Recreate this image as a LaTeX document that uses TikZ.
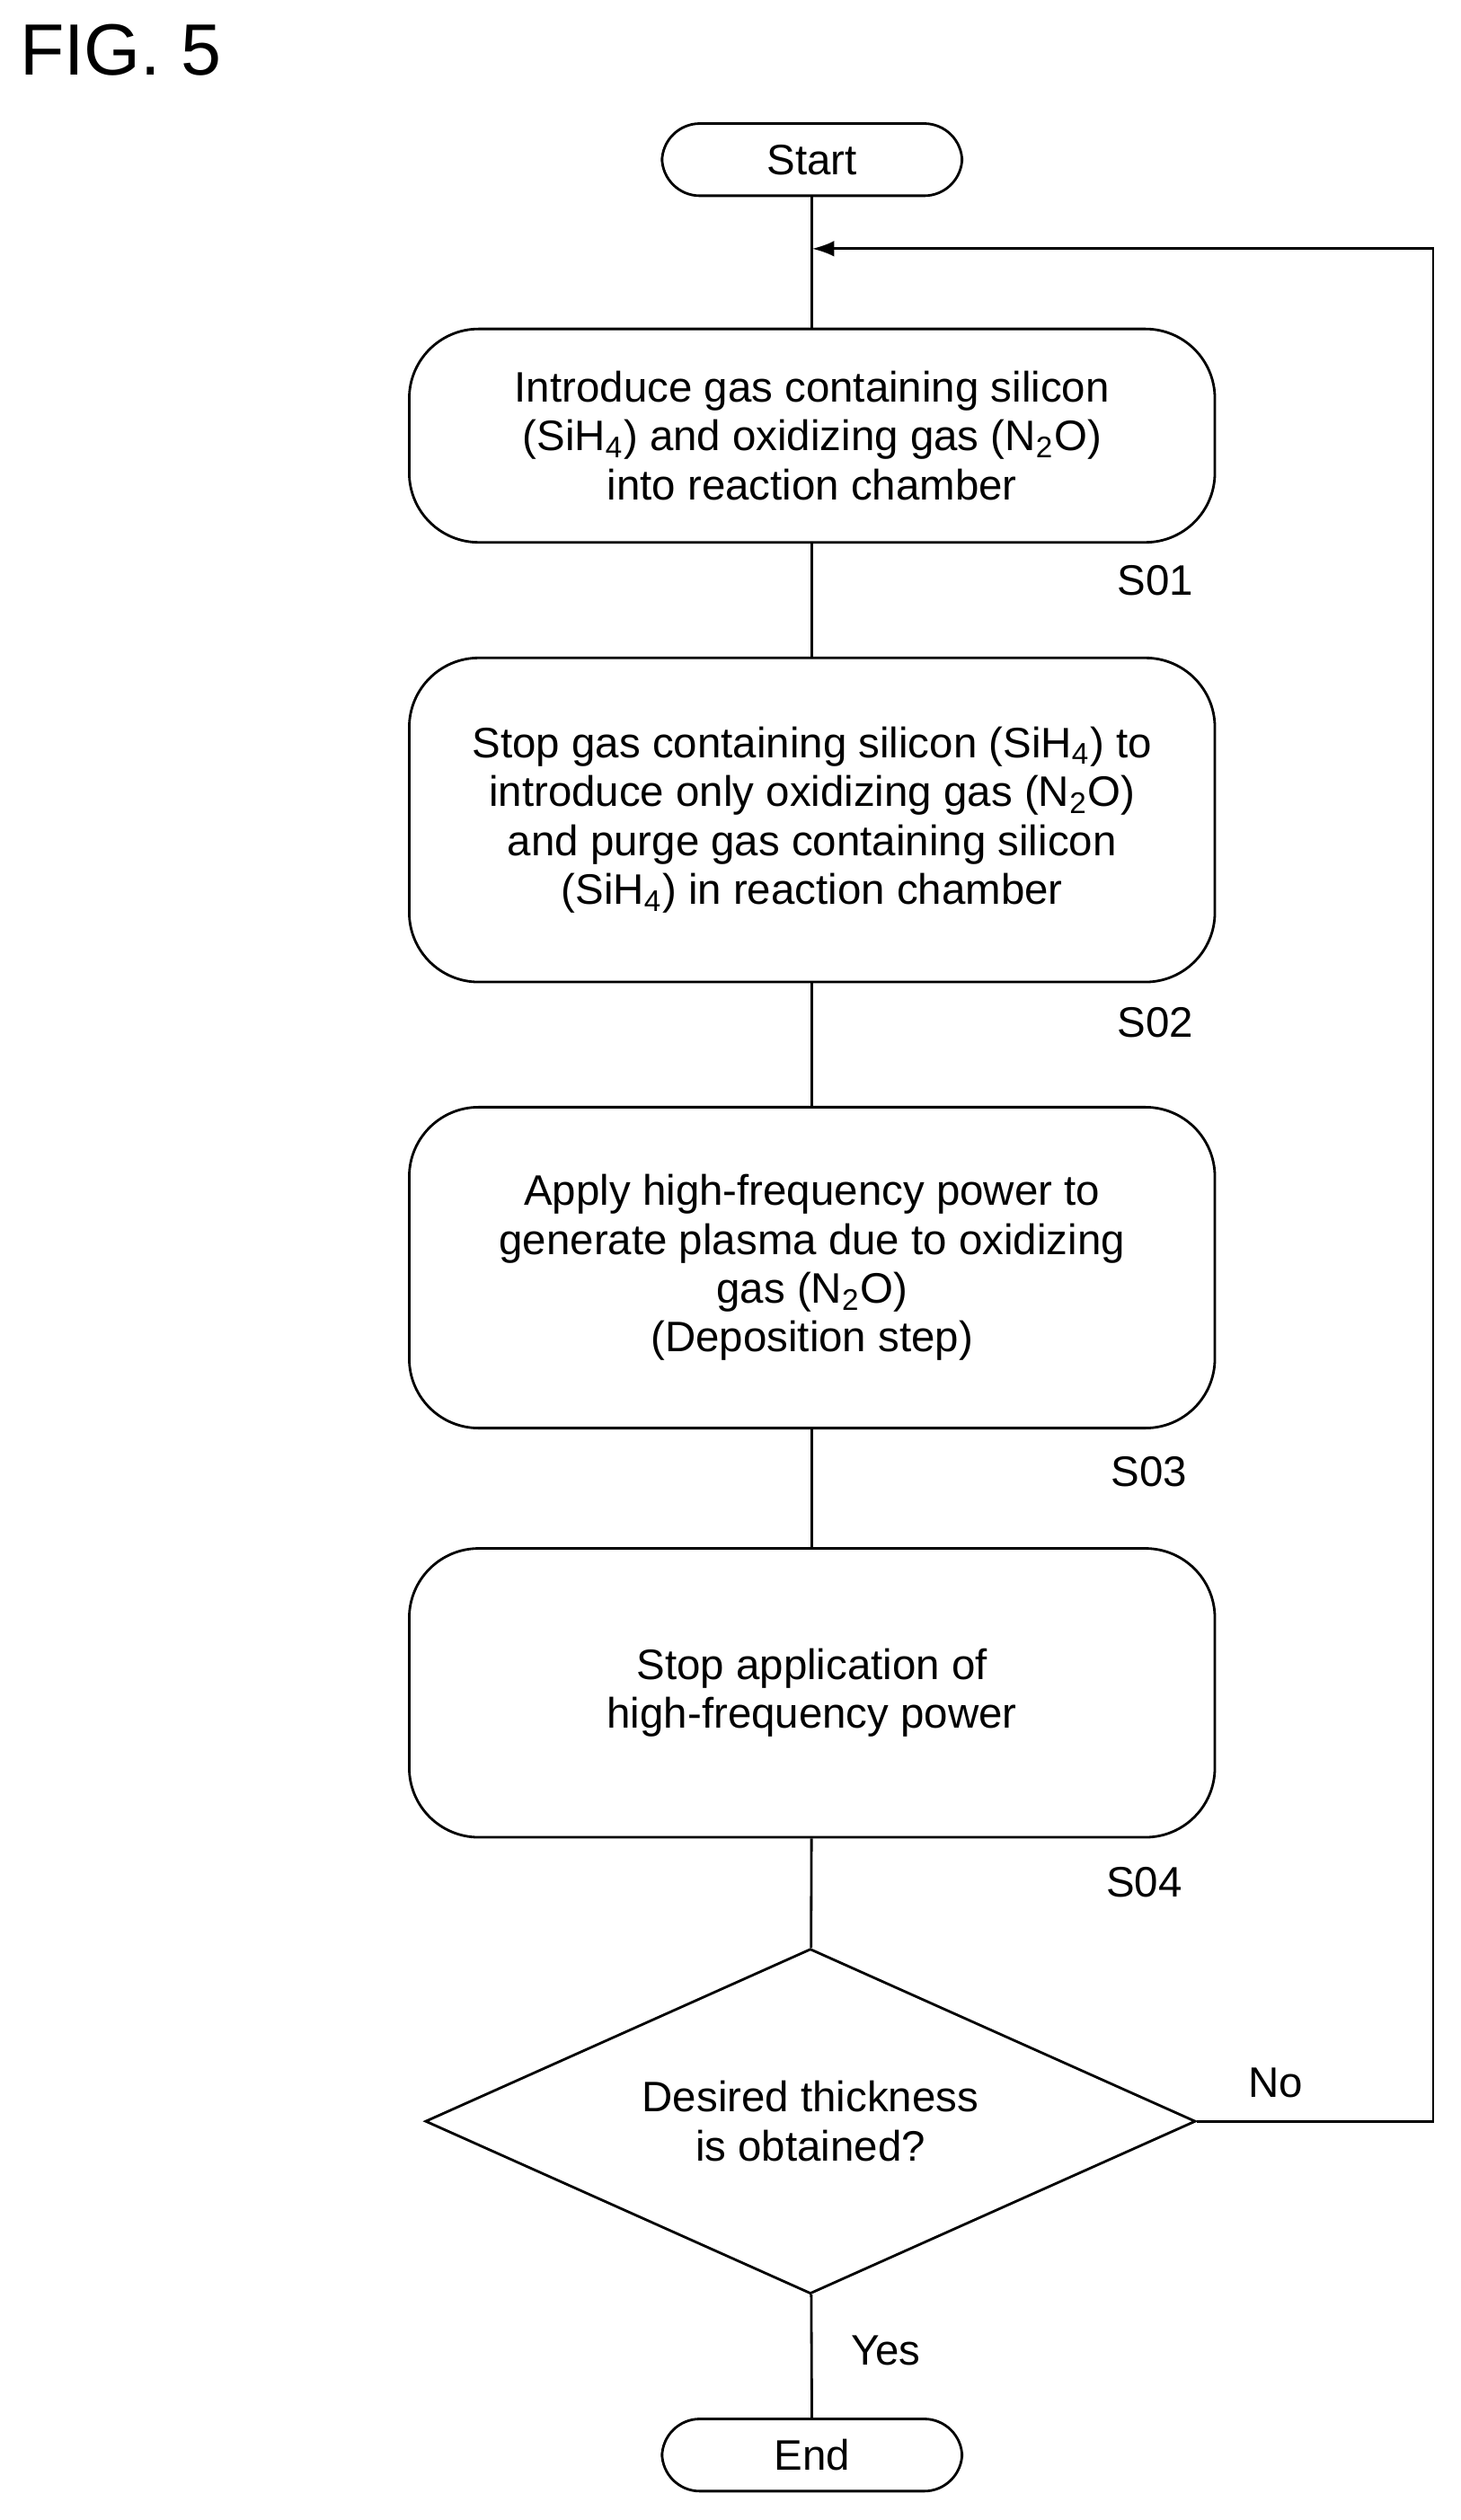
\documentclass[tikz,border=0pt]{standalone}
\usepackage{fontspec}
\setmainfont{Liberation Sans}
\usetikzlibrary{shapes.geometric,arrows.meta}
\newcommand{\sbs}[1]{\textsubscript{#1}}
\begin{document}
\begin{tikzpicture}[x=0.1786mm,y=-0.1786mm,
  line width=0.8pt,
  txt/.style={font=\fontsize{13.5}{15.5}\selectfont,align=center},
  proc/.style={draw,rounded corners=22pt,minimum width=502*0.1786mm,txt},
  term/.style={draw,rounded corners=12pt,minimum width=187*0.1786mm,minimum height=45*0.1786mm,txt},
  lab/.style={font=\fontsize{13.5}{15.5}\selectfont}]
\useasboundingbox (0,0) rectangle (910,1570.5);
\node[anchor=north west,font=\fontsize{23}{26}\selectfont] (fig) at (5,8) {FIG. 5};
\node[term] (start) at (506,99.5) {Start};
\node[proc,minimum height=133*0.1786mm] (s1) at (506,271.5) {Introduce gas containing silicon\\(SiH\sbs{4}) and oxidizing gas (N\sbs{2}O)\\into reaction chamber};
\node[proc,minimum height=202*0.1786mm] (s2) at (506,511) {Stop gas containing silicon (SiH\sbs{4}) to\\introduce only oxidizing gas (N\sbs{2}O)\\and purge gas containing silicon\\(SiH\sbs{4}) in reaction chamber};
\node[proc,minimum height=200*0.1786mm] (s3) at (506,790) {Apply high-frequency power to\\generate plasma due to oxidizing\\gas (N\sbs{2}O)\\ (Deposition step)};
\node[proc,minimum height=180*0.1786mm] (s4) at (506,1055) {Stop application of\\high-frequency power};
\node[draw,diamond,aspect=2.23,minimum width=480*0.1786mm,minimum height=215*0.1786mm,inner sep=0pt,txt] (d) at (505,1322) {Desired thickness\\is obtained?};
\node[term] (end) at (506,1530) {End};
\node[lab] (l1) at (720,362) {S01};
\node[lab] (l2) at (720,637) {S02};
\node[lab] (l3) at (716,917) {S03};
\node[lab] (l4) at (713,1173) {S04};
\node[lab] (no) at (795,1298) {No};
\node[lab] (yes) at (552,1465) {Yes};
\coordinate (j) at (506,155);
\coordinate (c1) at (893,1322);
\coordinate (c2) at (893,155);
\draw (start) -- (s1);
\draw (s1) -- (s2);
\draw (s2) -- (s3);
\draw (s3) -- (s4);
\draw (s4) -- (d);
\draw (d) -- (end);
\draw[-{Latex[length=7pt,width=5pt]}] (d.east) -- (c1) -- (c2) -- (j);
\end{tikzpicture}
\end{document}
